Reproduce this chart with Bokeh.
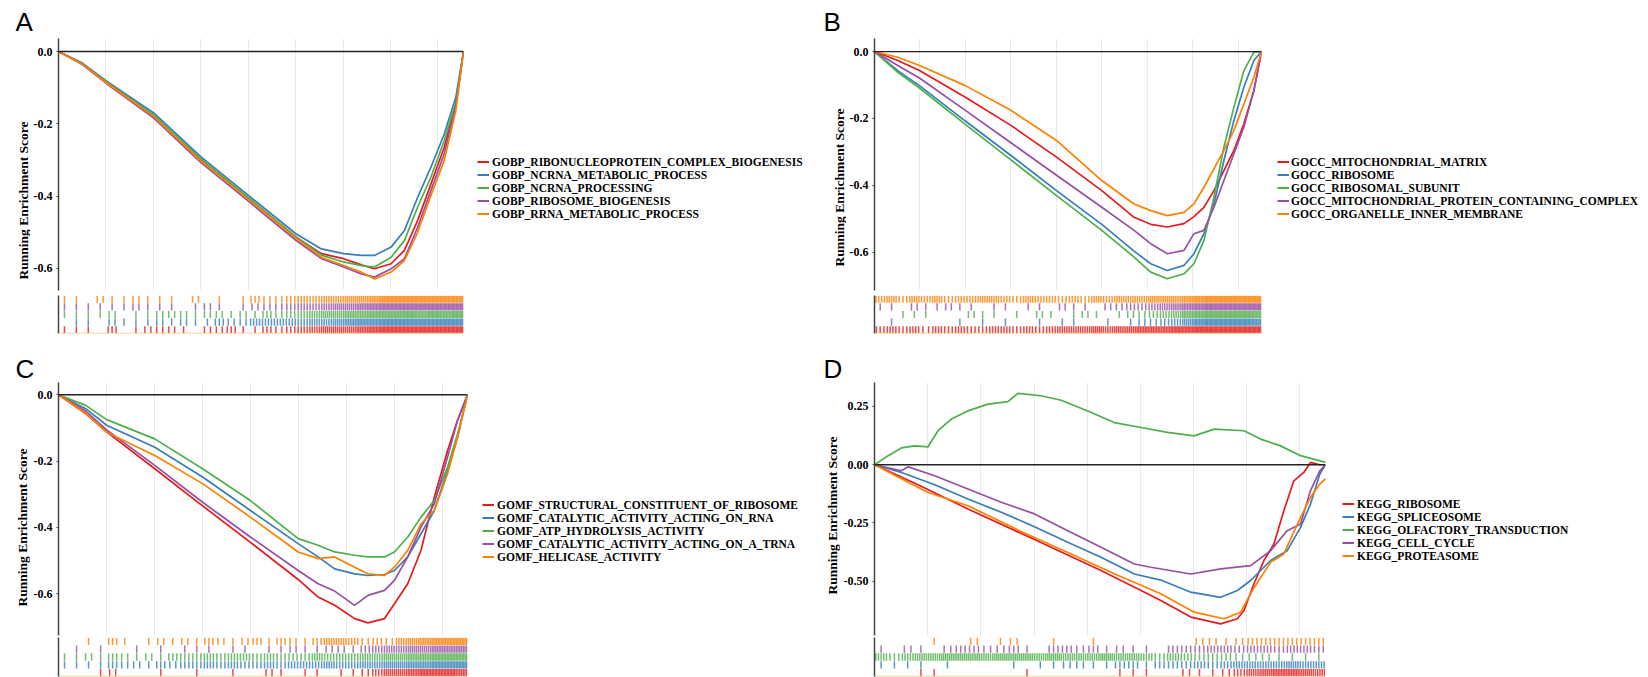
import math
from bokeh.plotting import figure
from bokeh.models import Range1d, FixedTicker, PrintfTickFormatter, Label, Legend, LegendItem, Span
from bokeh.layouts import row, column
from bokeh.embed import file_html
from bokeh.resources import INLINE

SERIF = "Liberation Serif"
SANS = "Liberation Sans"
COLORS = ["#E41A1C", "#377EB8", "#4DAF4A", "#984EA3", "#FF7F00"]
GRID_STEP = 2000
YLABEL = "Running Enrichment Score"

# ---------------- Panel A (GOBP) ----------------
A_names = ["GOBP_RIBONUCLEOPROTEIN_COMPLEX_BIOGENESIS", "GOBP_NCRNA_METABOLIC_PROCESS",
           "GOBP_NCRNA_PROCESSING", "GOBP_RIBOSOME_BIOGENESIS", "GOBP_RRNA_METABOLIC_PROCESS"]
A_n = 17080
A_x = [0, 1008, 2030, 4018, 6020, 8008, 10010, 11088, 12026, 12768, 13328, 14028, 14588, 15148, 15708, 16268, 16758, 17080]
A_red = [0, -0.034, -0.086, -0.178, -0.300, -0.406, -0.513, -0.559, -0.573, -0.590, -0.601, -0.587, -0.550, -0.467, -0.366, -0.265, -0.145, 0]
A_blue = [0, -0.032, -0.082, -0.170, -0.292, -0.398, -0.504, -0.546, -0.559, -0.564, -0.564, -0.541, -0.495, -0.403, -0.320, -0.228, -0.126, 0]
A_green = [0, -0.034, -0.085, -0.176, -0.298, -0.404, -0.513, -0.563, -0.582, -0.592, -0.596, -0.569, -0.523, -0.430, -0.347, -0.246, -0.140, 0]
A_purple = [0, -0.036, -0.089, -0.184, -0.308, -0.414, -0.522, -0.573, -0.596, -0.615, -0.624, -0.601, -0.573, -0.486, -0.384, -0.283, -0.150, 0]
A_orange = [0, -0.035, -0.087, -0.180, -0.303, -0.409, -0.516, -0.569, -0.592, -0.610, -0.629, -0.610, -0.578, -0.500, -0.398, -0.301, -0.163, 0]
# hit density per bin of the gene ranking (rug rows, bottom to top)
A_rug = ["1110301222102231132345666789999999",
         "0110211121211322444445567889999999",
         "1111201122212212132345667788898989",
         "1111112111012101222344566789999999",
         "1102112111020101322344556679999999"]

# ---------------- Panel B (GOCC) ----------------
B_names = ["GOCC_MITOCHONDRIAL_MATRIX", "GOCC_RIBOSOME", "GOCC_RIBOSOMAL_SUBUNIT",
           "GOCC_MITOCHONDRIAL_PROTEIN_CONTAINING_COMPLEX", "GOCC_ORGANELLE_INNER_MEMBRANE"]
B_n = 17026
B_x = [0, 1025, 1976, 3997, 6002, 8008, 10000, 11419, 12151, 12883, 13615, 14054, 14494, 14933, 15372, 15811, 16250, 16690, 17026]
B_red = [0, -0.027, -0.057, -0.137, -0.221, -0.316, -0.416, -0.496, -0.517, -0.525, -0.515, -0.494, -0.466, -0.416, -0.356, -0.296, -0.216, -0.117, 0]
B_blue = [0, -0.057, -0.102, -0.208, -0.311, -0.416, -0.517, -0.597, -0.635, -0.655, -0.640, -0.605, -0.545, -0.456, -0.326, -0.206, -0.107, -0.027, 0]
B_green = [0, -0.062, -0.109, -0.218, -0.324, -0.431, -0.535, -0.615, -0.660, -0.680, -0.665, -0.635, -0.565, -0.436, -0.286, -0.167, -0.057, -0.002, 0]
B_purple = [0, -0.042, -0.079, -0.176, -0.273, -0.370, -0.466, -0.535, -0.575, -0.605, -0.595, -0.545, -0.535, -0.466, -0.386, -0.306, -0.226, -0.117, 0]
B_orange = [0, -0.017, -0.042, -0.102, -0.176, -0.266, -0.386, -0.456, -0.476, -0.491, -0.481, -0.456, -0.406, -0.351, -0.296, -0.236, -0.157, -0.077, 0]
B_rug = ["3434243433443434555656677788999999",
         "0100000101010010110010122346899998",
         "0011100021101021012101223457899998",
         "1102112110110110211022334567899999",
         "4535453445543544343545556667899999"]

# ---------------- Panel C (GOMF) ----------------
C_names = ["GOMF_STRUCTURAL_CONSTITUENT_OF_RIBOSOME", "GOMF_CATALYTIC_ACTIVITY_ACTING_ON_RNA",
           "GOMF_ATP_HYDROLYSIS_ACTIVITY", "GOMF_CATALYTIC_ACTIVITY_ACTING_ON_A_TRNA", "GOMF_HELICASE_ACTIVITY"]
C_n = 17039
C_x = [0, 1134, 2005, 4011, 6002, 7994, 9985, 10815, 11507, 12336, 12889, 13581, 13996, 14549, 15102, 15656, 16209, 16624, 17039]
C_red = [0, -0.057, -0.112, -0.223, -0.335, -0.445, -0.557, -0.610, -0.635, -0.675, -0.688, -0.675, -0.630, -0.570, -0.469, -0.309, -0.168, -0.077, 0]
C_blue = [0, -0.042, -0.092, -0.158, -0.248, -0.349, -0.449, -0.489, -0.525, -0.540, -0.545, -0.542, -0.530, -0.489, -0.419, -0.349, -0.228, -0.128, 0]
C_green = [0, -0.032, -0.075, -0.133, -0.223, -0.319, -0.434, -0.454, -0.474, -0.484, -0.489, -0.489, -0.474, -0.429, -0.369, -0.319, -0.218, -0.118, 0]
C_purple = [0, -0.049, -0.106, -0.213, -0.324, -0.429, -0.530, -0.570, -0.592, -0.635, -0.605, -0.590, -0.560, -0.489, -0.399, -0.329, -0.188, -0.077, 0]
C_orange = [0, -0.055, -0.113, -0.183, -0.268, -0.369, -0.474, -0.494, -0.489, -0.520, -0.540, -0.545, -0.520, -0.469, -0.389, -0.349, -0.238, -0.128, 0]
C_rug = ["0001200010010010021011011246678887",
         "1111322132334343343444544556677888",
         "1121321213334344343335444556677888",
         "0101001010111011011211221345566777",
         "0010310121213212313213554232567888"]

# ---------------- Panel D (KEGG) ----------------
D_names = ["KEGG_RIBOSOME", "KEGG_SPLICEOSOME", "KEGG_OLFACTORY_TRANSDUCTION",
           "KEGG_CELL_CYCLE", "KEGG_PROTEASOME"]
D_n = 16960
D_red_x = [0, 1639, 3514, 6016, 8517, 10268, 10768, 11894, 13019, 13645, 13895, 14270, 14645, 15020, 15395, 15770, 16146, 16396, 16746, 16960]
D_red = [0, -0.086, -0.190, -0.321, -0.454, -0.554, -0.583, -0.654, -0.683, -0.661, -0.626, -0.511, -0.411, -0.340, -0.197, -0.069, -0.033, 0.010, 0.0, 0.0]
D_blue_x = [0, 1013, 2264, 3514, 4765, 6016, 7267, 8517, 9768, 10768, 11894, 13019, 13645, 14145, 14895, 15520, 16021, 16396, 16746, 16960]
D_blue = [0, -0.033, -0.086, -0.147, -0.204, -0.266, -0.333, -0.397, -0.469, -0.495, -0.547, -0.569, -0.540, -0.497, -0.411, -0.369, -0.269, -0.169, -0.040, 0]
D_green_x = [0, 513, 1013, 1513, 2014, 2389, 2889, 3514, 4265, 5016, 5391, 6266, 7016, 8018, 9017, 10018, 11019, 12018, 12768, 13894, 14520, 15270, 16021, 16509, 16960]
D_green = [0, 0.039, 0.072, 0.081, 0.077, 0.146, 0.196, 0.231, 0.260, 0.271, 0.306, 0.296, 0.277, 0.231, 0.181, 0.160, 0.139, 0.124, 0.153, 0.146, 0.110, 0.081, 0.039, 0.024, 0.010]
D_purple_x = [0, 1013, 1264, 2264, 3514, 4765, 6016, 7267, 8517, 9768, 10393, 11894, 13019, 14145, 14895, 15520, 16021, 16396, 16746, 16960]
D_purple = [0, -0.026, -0.009, -0.047, -0.104, -0.161, -0.211, -0.283, -0.354, -0.426, -0.440, -0.469, -0.447, -0.433, -0.369, -0.283, -0.254, -0.111, -0.026, 0]
D_orange_x = [0, 2014, 3514, 5391, 7267, 9143, 10768, 12018, 13144, 13770, 14209, 14895, 15395, 16021, 16396, 16746, 16960]
D_orange = [0, -0.119, -0.176, -0.280, -0.377, -0.474, -0.554, -0.633, -0.661, -0.633, -0.540, -0.419, -0.383, -0.226, -0.140, -0.083, -0.060]
D_rug = ["0001100000010000001110021124678876",
         "1111010000101122113313334345555655",
         "5356677767776766676653543332221111",
         "1021023322310332312110333443443443",
         "0000100201200100100000002212333333"]


def blank(W, H):
    f = figure(width=W, height=H, x_range=Range1d(0, W), y_range=Range1d(0, H),
               output_backend="svg", toolbar_location=None,
               x_axis_location=None, y_axis_location=None, frame_align=False,
               min_border_left=0, min_border_right=0, min_border_top=0, min_border_bottom=0)
    f.outline_line_color = None
    f.grid.visible = False
    return f


def build(letter, names, xs_list, ys_list, rugs, xmax, y_lo, y_hi, yticks, yfmt,
          YW, yl_x, yl_y, lb, fw, LH, H, fh, RH, rbt, rfh, lab_x, lab_y,
          LW, leg_x, leg_y, leg_standoff):
    rb = 6
    PW = lb + fw + rb
    W = YW + PW
    # panel letter strip
    top = blank(W, LH)
    top.add_layout(Label(x=lab_x, y=lab_y, text=letter, text_font=SANS, text_font_size="26px",
                         text_color="black", text_baseline="alphabetic", text_align="left"))

    # y axis title strip
    yl = blank(YW, H + RH)
    yl.add_layout(Label(x=yl_x, y=yl_y, text=YLABEL, angle=math.pi / 2,
                        text_font=SERIF, text_font_style="bold", text_font_size="13.5px",
                        text_color="black", text_align="center", text_baseline="middle"))

    p = figure(width=PW, height=H, x_range=Range1d(0, xmax), y_range=Range1d(y_lo, y_hi),
               output_backend="svg", toolbar_location=None,
               min_border_left=lb, min_border_right=rb,
               min_border_top=0, min_border_bottom=H - fh)
    p.outline_line_color = None
    grid_ticker = FixedTicker(ticks=list(range(GRID_STEP, int(xmax), GRID_STEP)))
    p.xaxis.ticker = grid_ticker
    p.xgrid.ticker = grid_ticker
    p.xaxis.visible = False
    p.xgrid.grid_line_color = "#EAEAEA"
    p.xgrid.grid_line_width = 1
    p.ygrid.visible = False
    ax = p.yaxis[0]
    ax.ticker = FixedTicker(ticks=yticks)
    ax.formatter = PrintfTickFormatter(format=yfmt)
    ax.major_label_text_font = SERIF
    ax.major_label_text_font_style = "bold"
    ax.major_label_text_font_size = "12px"
    ax.major_label_text_color = "black"
    ax.major_label_standoff = 4
    ax.major_tick_out = 2
    ax.major_tick_in = 0
    ax.minor_tick_out = 0
    ax.minor_tick_in = 0
    ax.axis_line_color = "#444444"
    ax.axis_line_width = 1.5
    ax.major_tick_line_color = "#444444"

    p.add_layout(Span(location=0, dimension="width", line_color="#222222", line_width=1.3))
    for i in range(5):
        p.line(xs_list[i], ys_list[i], line_color=COLORS[i], line_width=1.7)

    q = figure(width=PW, height=RH, x_range=p.x_range, y_range=Range1d(0, 5),
               output_backend="svg", toolbar_location=None,
               min_border_left=lb, min_border_right=rb,
               min_border_top=rbt, min_border_bottom=RH - rbt - rfh)
    q.outline_line_color = None
    q.xaxis.visible = False
    q.grid.visible = False
    qa = q.yaxis[0]
    qa.ticker = FixedTicker(ticks=[])
    qa.major_label_text_font_size = "0px"
    qa.major_tick_out = 0
    qa.minor_tick_out = 0
    qa.axis_line_color = "#444444"
    qa.axis_line_width = 1.5
    for i, s in enumerate(rugs):
        bw = xmax / len(s)
        xs = []
        for b, ch in enumerate(s):
            c = int(ch)
            for j in range(c):
                xs.append((b + (j + 0.5) / c) * bw)
        n = len(xs)
        q.segment(x0=xs, x1=xs, y0=[i + 0.03] * n, y1=[i + 0.97] * n,
                  line_color=COLORS[i], line_width=1.5, line_alpha=0.8)
    q.add_layout(Span(location=0.03, dimension="width", line_color="#F2B45C", line_width=1))

    # legend strip to the right (swatch renderers lie outside the visible range)
    TH = LH + H + RH
    lg = blank(LW, TH)
    items = []
    for i in range(5):
        r = lg.line(x=[-20, -10], y=[-20, -20], line_color=COLORS[i], line_width=2)
        items.append(LegendItem(label=names[i], renderers=[r]))
    leg = Legend(items=items, location=(leg_x, leg_y),
                 label_text_font=SERIF, label_text_font_style="bold",
                 label_text_font_size="11.5px", label_text_color="black",
                 label_height=13, glyph_height=13, glyph_width=12,
                 label_standoff=leg_standoff, spacing=0, padding=0, margin=0,
                 border_line_color=None, background_fill_alpha=0)
    lg.add_layout(leg)
    return row(column(top, row(yl, column(p, q))), lg)


yt1 = [-0.6, -0.4, -0.2, 0.0]
panA = build("A", A_names, [A_x] * 5, [A_red, A_blue, A_green, A_purple, A_orange], A_rug,
             A_n, -0.661, 0.036, yt1, "%.1f",
             YW=30, yl_x=22.5, yl_y=135, lb=26, fw=407, LH=38, H=255, fh=252, RH=42, rbt=2, rfh=38,
             lab_x=15, lab_y=17, LW=354, leg_x=8, leg_y=115, leg_standoff=3)
panB = build("B", B_names, [B_x] * 5, [B_red, B_blue, B_green, B_purple, B_orange], B_rug,
             B_n, -0.715, 0.039, yt1, "%.1f",
             YW=23, yl_x=16, yl_y=148, lb=27, fw=388, LH=38, H=255, fh=252, RH=42, rbt=2, rfh=38,
             lab_x=0, lab_y=17, LW=381, leg_x=10, leg_y=115, leg_standoff=2)
panC = build("C", C_names, [C_x] * 5, [C_red, C_blue, C_green, C_purple, C_orange], C_rug,
             C_n, -0.726, 0.037, yt1, "%.1f",
             YW=30, yl_x=22, yl_y=150, lb=26, fw=411, LH=47, H=254, fh=253, RH=41, rbt=1, rfh=39,
             lab_x=15, lab_y=14, LW=350, leg_x=9, leg_y=114, leg_standoff=3)
panD = build("D", D_names, [D_red_x, D_blue_x, D_green_x, D_purple_x, D_orange_x],
             [D_red, D_blue, D_green, D_purple, D_orange], D_rug,
             D_n, -0.733, 0.353, [-0.5, -0.25, 0.0, 0.25], "%.2f",
             YW=17, yl_x=9, yl_y=162, lb=33, fw=452, LH=47, H=254, fh=253, RH=41, rbt=1, rfh=39,
             lab_x=0, lab_y=14, LW=317, leg_x=11, leg_y=115, leg_standoff=3)

layout = column(row(panA, panB), row(panC, panD))
open("out.html", "w").write(file_html(layout, INLINE))
